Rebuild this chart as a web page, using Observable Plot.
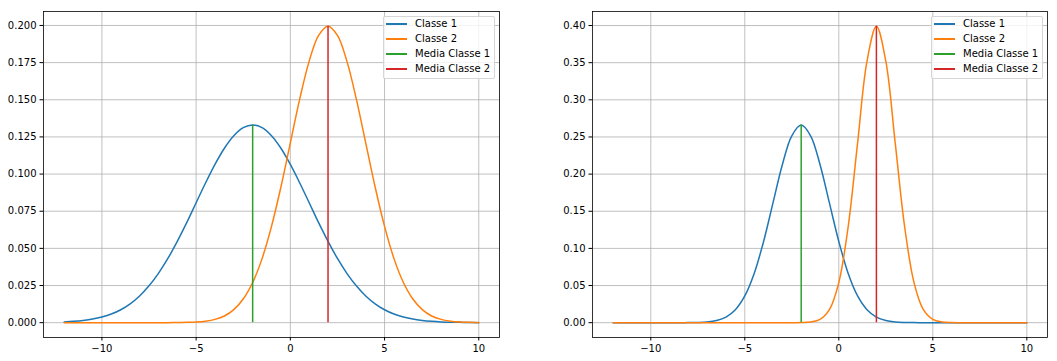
<!DOCTYPE html>
<html>
<head>
<meta charset="utf-8">
<script src="https://cdn.jsdelivr.net/npm/d3@7"></script>
<script src="https://cdn.jsdelivr.net/npm/@observablehq/plot@0.6"></script>
<style>
  body { margin: 0; background: white; font-family: "DejaVu Sans", sans-serif; }
  #wrap { position: relative; width: 1057px; height: 361px; }
  .panel { position: absolute; top: 0; }
  .legend { position: absolute; background: rgba(255,255,255,0.8); border: 1px solid rgba(204,204,204,0.8); border-radius: 2px; box-sizing: border-box; font-size: 10px; color: #000; }
  .legend .sw { position: absolute; height: 2px; }
  .legend .lb { position: absolute; white-space: nowrap; line-height: 12px; }
</style>
</head>
<body>
<div id="wrap"></div>
<script>
// x sample positions (step 0.5 from -12 to 10)
const xs = d3.range(-12, 10.0001, 0.5);

// Left panel
const leftClasse1 = [0.0005,0.0009,0.0015,0.0024,0.0038,0.0058,0.0087,0.0127,0.0180,0.0248,0.0332,0.0432,0.0547,0.0673,0.0807,0.0940,0.1065,0.1174,0.1258,0.1312,0.1330,0.1312,0.1258,0.1174,0.1065,0.0940,0.0807,0.0673,0.0547,0.0432,0.0332,0.0248,0.0180,0.0127,0.0087,0.0058,0.0038,0.0024,0.0015,0.0009,0.0005,0.0003,0.0002,0.0001,0.0000];
const leftClasse2 = [0,0,0,0,0,0,0,0,0,0,0,0,0.0001,0.0002,0.0004,0.0010,0.0022,0.0045,0.0088,0.0159,0.0270,0.0431,0.0648,0.0913,0.1210,0.1506,0.1760,0.1933,0.1995,0.1933,0.1760,0.1506,0.1210,0.0913,0.0648,0.0431,0.0270,0.0159,0.0088,0.0045,0.0022,0.0010,0.0004,0.0002,0.0001];
// Right panel
const rightClasse1 = [0,0,0,0,0,0,0,0,0.0001,0.0003,0.0010,0.0030,0.0076,0.0175,0.0360,0.0663,0.1093,0.1613,0.2130,0.2516,0.2660,0.2516,0.2130,0.1613,0.1093,0.0663,0.0360,0.0175,0.0076,0.0030,0.0010,0.0003,0.0001,0,0,0,0,0,0,0,0,0,0,0,0];
const rightClasse2 = [0,0,0,0,0,0,0,0,0,0,0,0,0,0,0,0,0,0,0,0,0.0001,0.0009,0.0044,0.0175,0.0540,0.1295,0.2420,0.3521,0.3989,0.3521,0.2420,0.1295,0.0540,0.0175,0.0044,0.0009,0.0001,0,0,0,0,0,0,0,0];

const means = [-2, 2];
const leftPeaks = [0.133, 0.1995];
const rightPeaks = [0.266, 0.3989];

const seriesNames = ["Classe 1", "Classe 2", "Media Classe 1", "Media Classe 2"];
const colors = ["#1f77b4", "#ff7f0e", "#2ca02c", "#d62728"];

const xTicks = [-10, -5, 0, 5, 10];
const leftYTicks = [0, 0.025, 0.05, 0.075, 0.1, 0.125, 0.15, 0.175, 0.2];
const rightYTicks = [0, 0.05, 0.1, 0.15, 0.2, 0.25, 0.3, 0.35, 0.4];

function panel(c1, c2, peaks, yTicks, fmt, yDomain, opts) {
  const d1 = xs.map((x, i) => ({x, y: c1[i]}));
  const d2 = xs.map((x, i) => ({x, y: c2[i]}));
  const rules = means.map((m, i) => ({x: m, y1: 0, y2: peaks[i], c: colors[2 + i]}));
  return Plot.plot({
    width: opts.width, height: 361,
    marginLeft: opts.ml, marginRight: opts.mr, marginTop: 11, marginBottom: 24,
    style: {fontFamily: "DejaVu Sans", fontSize: "10px", color: "#000", background: "white", overflow: "visible"},
    x: {domain: [-13.1, 11.1], label: null},
    y: {domain: yDomain, label: null},
    marks: [
      Plot.gridX(xTicks, {stroke: "#b0b0b0", strokeOpacity: 1, strokeWidth: 0.8}),
      Plot.gridY(yTicks, {stroke: "#b0b0b0", strokeOpacity: 1, strokeWidth: 0.8}),
      Plot.line(d1, {x: "x", y: "y", stroke: colors[0], strokeWidth: 1.5, curve: "catmull-rom"}),
      Plot.line(d2, {x: "x", y: "y", stroke: colors[1], strokeWidth: 1.5, curve: "catmull-rom"}),
      Plot.ruleX(rules, {x: "x", y1: "y1", y2: "y2", stroke: "c", strokeWidth: 1.5}),
      Plot.frame({stroke: "#000", strokeWidth: 0.8}),
      Plot.axisX(xTicks, {tickSize: 3.5, tickPadding: 3.5, fontSize: 10, label: null, tickFormat: d3.format("")}),
      Plot.axisY(yTicks, {tickSize: 3.5, tickPadding: 3.5, fontSize: 10, label: null, tickFormat: d3.format(fmt)})
    ]
  });
}

function legend(left, top, width, height, lineX0, lineX1, textX) {
  const lg = document.createElement("div");
  lg.className = "legend";
  Object.assign(lg.style, {left: left + "px", top: top + "px", width: width + "px", height: height + "px"});
  seriesNames.forEach((name, i) => {
    const cy = 24 + i * 15 - top;
    const sw = document.createElement("div");
    sw.className = "sw";
    Object.assign(sw.style, {left: (lineX0 - left - 1) + "px", width: (lineX1 - lineX0) + "px", top: (cy - 2) + "px", background: colors[i]});
    const lb = document.createElement("div");
    lb.className = "lb";
    lb.textContent = name;
    Object.assign(lb.style, {left: (textX - left - 1) + "px", top: (cy - 7) + "px"});
    lg.appendChild(sw);
    lg.appendChild(lb);
  });
  return lg;
}

const wrap = document.getElementById("wrap");
const p1 = panel(leftClasse1, leftClasse2, leftPeaks, leftYTicks, ".3f", [-0.00998, 0.2094], {width: 520, ml: 43, mr: 21});
p1.classList.add("panel"); p1.style.left = "0px";
const p2 = panel(rightClasse1, rightClasse2, rightPeaks, rightYTicks, ".2f", [-0.01995, 0.4189], {width: 517, ml: 52, mr: 10});
p2.classList.add("panel"); p2.style.left = "540px";
wrap.appendChild(p1);
wrap.appendChild(p2);
wrap.appendChild(legend(383, 16, 112, 63, 386, 407, 415));
wrap.appendChild(legend(931, 16, 112, 63, 934, 955, 963));
</script>
</body>
</html>
